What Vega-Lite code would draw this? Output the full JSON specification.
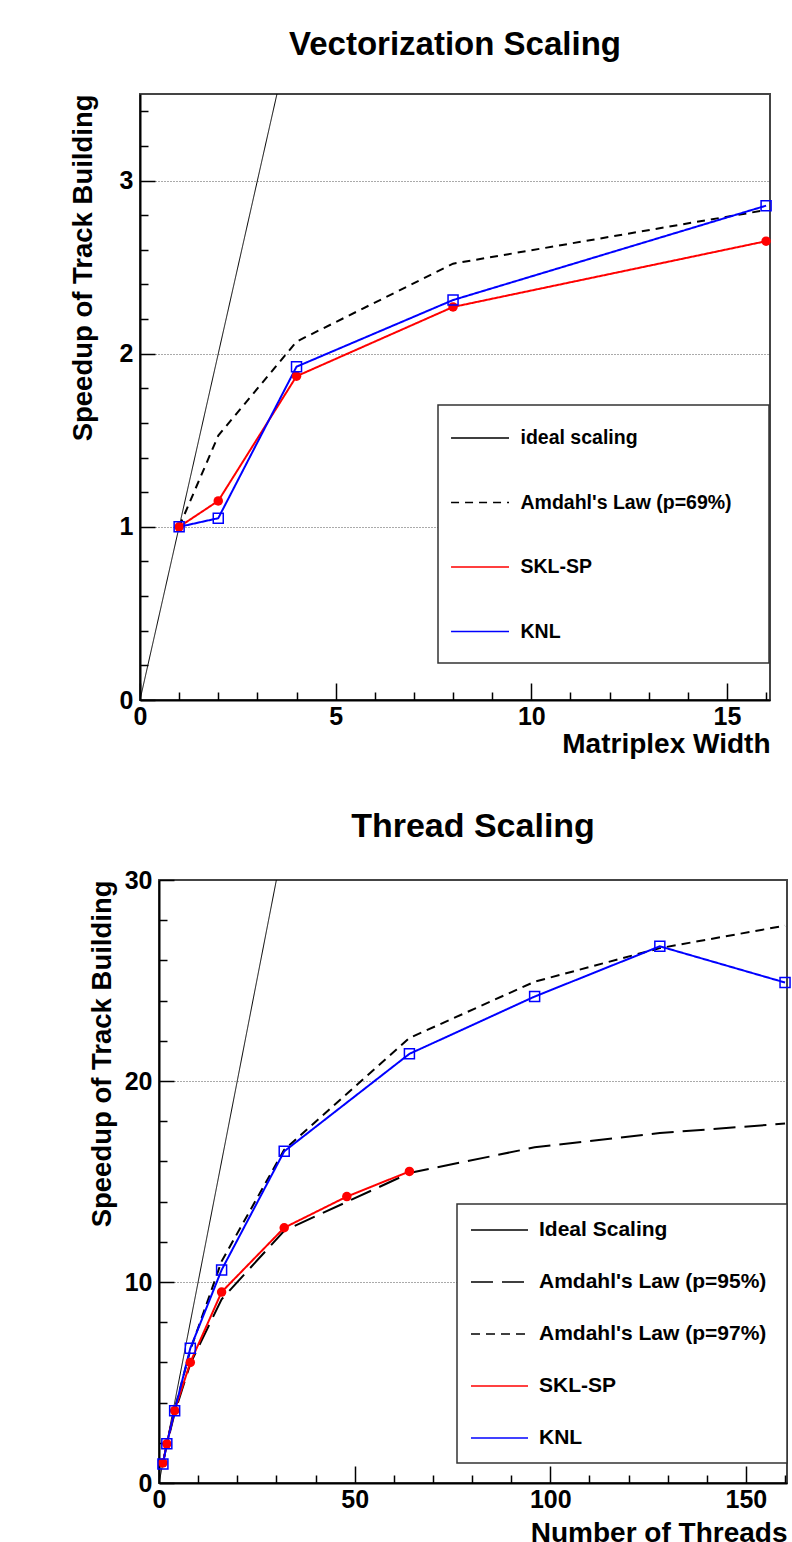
{
  "$schema": "https://vega.github.io/schema/vega-lite/v6.json",
  "background": "white",
  "padding": {"left": 68, "top": 28, "right": 0, "bottom": 0},
  "datasets": {
    "vec": [
      {"series": "ideal scaling", "x": 0, "y": 0},
      {"series": "ideal scaling", "x": 3.5, "y": 3.5},
      {"series": "Amdahl's Law (p=69%)", "x": 1, "y": 1},
      {"series": "Amdahl's Law (p=69%)", "x": 2, "y": 1.527},
      {"series": "Amdahl's Law (p=69%)", "x": 4, "y": 2.07},
      {"series": "Amdahl's Law (p=69%)", "x": 8, "y": 2.52},
      {"series": "Amdahl's Law (p=69%)", "x": 16, "y": 2.83},
      {"series": "SKL-SP", "x": 1, "y": 1.0},
      {"series": "SKL-SP", "x": 2, "y": 1.15},
      {"series": "SKL-SP", "x": 4, "y": 1.87},
      {"series": "SKL-SP", "x": 8, "y": 2.27},
      {"series": "SKL-SP", "x": 16, "y": 2.65},
      {"series": "KNL", "x": 1, "y": 1.0},
      {"series": "KNL", "x": 2, "y": 1.05},
      {"series": "KNL", "x": 4, "y": 1.925},
      {"series": "KNL", "x": 8, "y": 2.31},
      {"series": "KNL", "x": 16, "y": 2.855}
    ],
    "thr": [
      {"series": "Ideal Scaling", "x": 0, "y": 0},
      {"series": "Ideal Scaling", "x": 30, "y": 30},
      {"series": "Amdahl's Law (p=95%)", "x": 1, "y": 1},
      {"series": "Amdahl's Law (p=95%)", "x": 2, "y": 1.905},
      {"series": "Amdahl's Law (p=95%)", "x": 4, "y": 3.48},
      {"series": "Amdahl's Law (p=95%)", "x": 8, "y": 5.93},
      {"series": "Amdahl's Law (p=95%)", "x": 16, "y": 9.14},
      {"series": "Amdahl's Law (p=95%)", "x": 32, "y": 12.55},
      {"series": "Amdahl's Law (p=95%)", "x": 64, "y": 15.42},
      {"series": "Amdahl's Law (p=95%)", "x": 96, "y": 16.7},
      {"series": "Amdahl's Law (p=95%)", "x": 128, "y": 17.41},
      {"series": "Amdahl's Law (p=95%)", "x": 160, "y": 17.88},
      {"series": "Amdahl's Law (p=97%)", "x": 1, "y": 1},
      {"series": "Amdahl's Law (p=97%)", "x": 2, "y": 1.94},
      {"series": "Amdahl's Law (p=97%)", "x": 4, "y": 3.67},
      {"series": "Amdahl's Law (p=97%)", "x": 8, "y": 6.61},
      {"series": "Amdahl's Law (p=97%)", "x": 16, "y": 11.03},
      {"series": "Amdahl's Law (p=97%)", "x": 32, "y": 16.58},
      {"series": "Amdahl's Law (p=97%)", "x": 64, "y": 22.14},
      {"series": "Amdahl's Law (p=97%)", "x": 96, "y": 24.94},
      {"series": "Amdahl's Law (p=97%)", "x": 128, "y": 26.61},
      {"series": "Amdahl's Law (p=97%)", "x": 160, "y": 27.73},
      {"series": "SKL-SP", "x": 1, "y": 1.0},
      {"series": "SKL-SP", "x": 2, "y": 1.95},
      {"series": "SKL-SP", "x": 4, "y": 3.6},
      {"series": "SKL-SP", "x": 8, "y": 6.0},
      {"series": "SKL-SP", "x": 16, "y": 9.5},
      {"series": "SKL-SP", "x": 32, "y": 12.7},
      {"series": "SKL-SP", "x": 48, "y": 14.25},
      {"series": "SKL-SP", "x": 64, "y": 15.5},
      {"series": "KNL", "x": 1, "y": 0.95},
      {"series": "KNL", "x": 2, "y": 1.95},
      {"series": "KNL", "x": 4, "y": 3.6},
      {"series": "KNL", "x": 8, "y": 6.7},
      {"series": "KNL", "x": 16, "y": 10.6},
      {"series": "KNL", "x": 32, "y": 16.5},
      {"series": "KNL", "x": 64, "y": 21.35},
      {"series": "KNL", "x": 96, "y": 24.2},
      {"series": "KNL", "x": 128, "y": 26.7},
      {"series": "KNL", "x": 160, "y": 24.9}
    ]
  },
  "config": {
    "font": "Liberation Sans",
    "view": {"stroke": "#444", "strokeWidth": 2},
    "axis": {
      "labelFont": "Liberation Sans", "labelFontWeight": "bold", "labelFontSize": 25, "labelColor": "black",
      "titleFont": "Liberation Sans", "titleFontWeight": "bold", "titleColor": "black",
      "domainColor": "black", "domainWidth": 2, "tickColor": "black", "tickWidth": 1.5,
      "labelOverlap": false, "labelFlush": false, "gridColor": "#555", "gridDash": [1, 2], "gridWidth": 1
    },
    "legend": {
      "strokeColor": "#333", "strokeWidth": 1.5, "fillColor": "white",
      "labelFont": "Liberation Sans", "labelFontWeight": "bold", "labelColor": "black",
      "labelLimit": 600, "symbolStrokeWidth": 1.6
    },
    "title": {"font": "Liberation Sans", "fontWeight": "bold", "color": "black", "anchor": "middle"}
  },
  "resolve": {"scale": {"color": "independent", "strokeDash": "independent"}},
  "spacing": 50,
  "vconcat": [
    {
      "spacing": 0,
      "hconcat": [
        {
          "width": 630,
          "height": 606,
          "title": {"text": "Vectorization Scaling", "fontSize": 33, "offset": 32},
          "data": {"name": "vec"},
          "encoding": {
            "x": {"field": "x", "type": "quantitative",
              "scale": {"domain": [0, 16.1], "nice": false, "zero": false},
              "axis": {"title": "Matriplex Width", "titleAnchor": "end", "titleFontSize": 28, "titlePadding": -8,
                "values": [0,1,2,3,4,5,6,7,8,9,10,11,12,13,14,15,16],
                "labelExpr": "datum.value % 5 === 0 ? format(datum.value, 'd') : ''",
                "labelPadding": 21, "grid": false,
                "tickSize": {"condition": {"test": "datum.value % 5 === 0", "value": -17}, "value": -8}}},
            "y": {"field": "y", "type": "quantitative",
              "scale": {"domain": [0, 3.5], "nice": false, "zero": false},
              "axis": {"title": "Speedup of Track Building", "titleAnchor": "end", "titleFontSize": 27.5, "titlePadding": 22,
                "values": [0,0.2,0.4,0.6,0.8,1,1.2,1.4,1.6,1.8,2,2.2,2.4,2.6,2.8,3,3.2,3.4],
                "labelExpr": "abs(datum.value - round(datum.value)) < 0.000001 ? format(datum.value, 'd') : ''",
                "labelPadding": 22, "grid": true,
                "tickSize": {"condition": {"test": "abs(datum.value - round(datum.value)) < 0.000001", "value": -15}, "value": -8},
                "gridOpacity": {"condition": {"test": "abs(datum.value - round(datum.value)) < 0.000001 && datum.value > 0", "value": 1}, "value": 0}}}
          },
          "layer": [
            {
              "transform": [{"filter": "datum.series === 'ideal scaling'"}],
              "mark": {"type": "line", "strokeWidth": 1, "clip": true},
              "encoding": {
                "color": {"field": "series", "type": "nominal",
                  "scale": {"domain": ["ideal scaling", "Amdahl's Law (p=69%)", "SKL-SP", "KNL"], "range": ["black", "black", "red", "blue"]},
                  "legend": {"title": null, "orient": "none", "legendX": 298, "legendY": 311, "padding": 21.5,
                    "symbolSize": 441, "symbolType": "M-1.9,0H3.62M25.95,0",
                    "labelFontSize": 19.5, "labelOffset": 38, "rowPadding": 43.5}},
                "strokeDash": {"field": "series", "type": "nominal",
                  "scale": {"domain": ["ideal scaling", "Amdahl's Law (p=69%)", "SKL-SP", "KNL"], "range": [[1, 0], [8, 6], [1, 0], [1, 0]]}}
              }
            },
            {
              "transform": [{"filter": "indexof(datum.series, 'Amdahl') === 0"}],
              "mark": {"type": "line", "strokeWidth": 2},
              "encoding": {
                "color": {"field": "series", "type": "nominal",
                  "scale": {"domain": ["ideal scaling", "Amdahl's Law (p=69%)", "SKL-SP", "KNL"], "range": ["black", "black", "red", "blue"]}},
                "strokeDash": {"field": "series", "type": "nominal",
                  "scale": {"domain": ["ideal scaling", "Amdahl's Law (p=69%)", "SKL-SP", "KNL"], "range": [[1, 0], [8, 6], [1, 0], [1, 0]]}}
              }
            },
            {
              "transform": [{"filter": "datum.series === 'SKL-SP' || datum.series === 'KNL'"}],
              "mark": {"type": "line", "strokeWidth": 2},
              "encoding": {
                "color": {"field": "series", "type": "nominal",
                  "scale": {"domain": ["ideal scaling", "Amdahl's Law (p=69%)", "SKL-SP", "KNL"], "range": ["black", "black", "red", "blue"]}},
                "strokeDash": {"field": "series", "type": "nominal",
                  "scale": {"domain": ["ideal scaling", "Amdahl's Law (p=69%)", "SKL-SP", "KNL"], "range": [[1, 0], [8, 6], [1, 0], [1, 0]]}}
              }
            },
            {
              "transform": [{"filter": "datum.series === 'SKL-SP'"}],
              "mark": {"type": "point", "shape": "circle", "filled": true, "color": "red", "size": 90, "opacity": 1}
            },
            {
              "transform": [{"filter": "datum.series === 'KNL'"}],
              "mark": {"type": "point", "shape": "square", "filled": false, "color": "blue", "strokeWidth": 1.5, "size": 100, "opacity": 1}
            }
          ]
        }
      ]
    },
    {
      "spacing": 0,
      "bounds": "flush",
      "hconcat": [
        {
          "width": 19,
          "height": 10,
          "view": {"stroke": null},
          "data": {"values": [{"a": 0}]},
          "mark": {"type": "point", "opacity": 0},
          "encoding": {}
        },
        {
          "width": 628,
          "height": 603,
          "title": {"text": "Thread Scaling", "fontSize": 34, "offset": 24},
          "data": {"name": "thr"},
          "encoding": {
            "x": {"field": "x", "type": "quantitative",
              "scale": {"domain": [0, 160.5], "nice": false, "zero": false},
              "axis": {"title": "Number of Threads", "titleAnchor": "end", "titleFontSize": 28, "titlePadding": -2,
                "values": [0,10,20,30,40,50,60,70,80,90,100,110,120,130,140,150,160],
                "labelExpr": "datum.value % 50 === 0 ? format(datum.value, 'd') : ''",
                "labelPadding": 21, "grid": false,
                "tickSize": {"condition": {"test": "datum.value % 50 === 0", "value": -17}, "value": -8}}},
            "y": {"field": "y", "type": "quantitative",
              "scale": {"domain": [0, 30], "nice": false, "zero": false},
              "axis": {"title": "Speedup of Track Building", "titleAnchor": "end", "titleFontSize": 27.5, "titlePadding": 7.5,
                "values": [0,2,4,6,8,10,12,14,16,18,20,22,24,26,28,30],
                "labelExpr": "datum.value % 10 === 0 ? format(datum.value, 'd') : ''",
                "labelPadding": 22, "grid": true,
                "tickSize": {"condition": {"test": "datum.value % 10 === 0", "value": -15}, "value": -8},
                "gridOpacity": {"condition": {"test": "datum.value % 10 === 0 && datum.value > 0 && datum.value < 30", "value": 1}, "value": 0}}}
          },
          "layer": [
            {
              "transform": [{"filter": "datum.series === 'Ideal Scaling'"}],
              "mark": {"type": "line", "strokeWidth": 1, "clip": true},
              "encoding": {
                "color": {"field": "series", "type": "nominal",
                  "scale": {"domain": ["Ideal Scaling", "Amdahl's Law (p=95%)", "Amdahl's Law (p=97%)", "SKL-SP", "KNL"], "range": ["black", "black", "black", "red", "blue"]},
                  "legend": {"title": null, "orient": "none", "legendX": 317, "legendY": 324, "padding": 14.5,
                    "symbolSize": 441, "symbolType": "M-1.143,0H4.286M27.19,0",
                    "labelFontSize": 21, "labelOffset": 44.5, "rowPadding": 30}},
                "strokeDash": {"field": "series", "type": "nominal",
                  "scale": {"domain": ["Ideal Scaling", "Amdahl's Law (p=95%)", "Amdahl's Law (p=97%)", "SKL-SP", "KNL"], "range": [[1, 0], [22, 9], [9, 6], [1, 0], [1, 0]]}}
              }
            },
            {
              "transform": [{"filter": "indexof(datum.series, 'Amdahl') === 0"}],
              "mark": {"type": "line", "strokeWidth": 2},
              "encoding": {
                "color": {"field": "series", "type": "nominal",
                  "scale": {"domain": ["Ideal Scaling", "Amdahl's Law (p=95%)", "Amdahl's Law (p=97%)", "SKL-SP", "KNL"], "range": ["black", "black", "black", "red", "blue"]}},
                "strokeDash": {"field": "series", "type": "nominal",
                  "scale": {"domain": ["Ideal Scaling", "Amdahl's Law (p=95%)", "Amdahl's Law (p=97%)", "SKL-SP", "KNL"], "range": [[1, 0], [22, 9], [9, 6], [1, 0], [1, 0]]}}
              }
            },
            {
              "transform": [{"filter": "datum.series === 'SKL-SP' || datum.series === 'KNL'"}],
              "mark": {"type": "line", "strokeWidth": 2},
              "encoding": {
                "color": {"field": "series", "type": "nominal",
                  "scale": {"domain": ["Ideal Scaling", "Amdahl's Law (p=95%)", "Amdahl's Law (p=97%)", "SKL-SP", "KNL"], "range": ["black", "black", "black", "red", "blue"]}},
                "strokeDash": {"field": "series", "type": "nominal",
                  "scale": {"domain": ["Ideal Scaling", "Amdahl's Law (p=95%)", "Amdahl's Law (p=97%)", "SKL-SP", "KNL"], "range": [[1, 0], [22, 9], [9, 6], [1, 0], [1, 0]]}}
              }
            },
            {
              "transform": [{"filter": "datum.series === 'SKL-SP'"}],
              "mark": {"type": "point", "shape": "circle", "filled": true, "color": "red", "size": 90, "opacity": 1}
            },
            {
              "transform": [{"filter": "datum.series === 'KNL'"}],
              "mark": {"type": "point", "shape": "square", "filled": false, "color": "blue", "strokeWidth": 1.5, "size": 100, "opacity": 1}
            }
          ]
        }
      ]
    }
  ]
}
